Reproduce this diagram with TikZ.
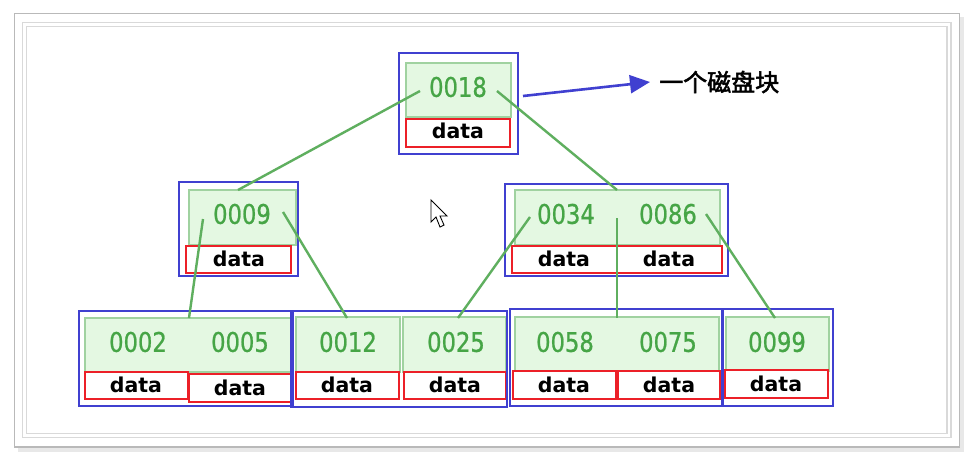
\documentclass[tikz,border=0pt]{standalone}
\usepackage{fontspec}
\setmainfont{DejaVu Sans}
\newfontfamily\numfont[FakeStretch=0.84,FakeBold=0.8]{DejaVu Sans}
\newfontfamily\cjkfont[FakeBold=2.2]{Noto Sans CJK SC}
\usetikzlibrary{fit,arrows.meta}
\definecolor{kfill}{RGB}{228,248,226}
\definecolor{kborder}{RGB}{160,210,160}
\definecolor{ktext}{RGB}{70,165,70}
\definecolor{kline}{RGB}{95,175,95}
\definecolor{dred}{RGB}{236,32,40}
\definecolor{bblue}{RGB}{64,64,208}
\tikzset{
  keybox/.style={fill=kfill, draw=kborder, line width=1.6pt, inner sep=0pt},
  databox/.style={fill=white, draw=dred, line width=2.4pt, inner sep=0pt},
  blockbox/.style={draw=bblue, line width=2.6pt, inner sep=0pt},
  num/.style={text=ktext, inner sep=0pt, font=\numfont\fontsize{27}{27}\selectfont},
  dat/.style={text=black, inner sep=0pt, font=\bfseries\fontsize{20.5}{20.5}\selectfont},
  link/.style={draw=kline, line width=2.4pt},
}
\begin{document}
\begin{tikzpicture}[x=1pt,y=-1pt]
\useasboundingbox (0,0) rectangle (967,460);
% frames
\fill[gray!18] (18,446) rectangle (964,452);
\fill[gray!18] (959,17) rectangle (964,452);
\draw[fill=white, draw=gray!55, line width=1.3pt] (14.5,13.5) rectangle (959.5,447);
\draw[gray!30, line width=1.3pt] (22.5,22.5) rectangle (951,437.5);
\draw[gray!30, line width=1.3pt] (26.5,26.5) rectangle (947,433.5);

% ---------- root ----------
\node[keybox, fit={(406,63)(511,117)}] (g18) {};
\node[databox, fit={(406,119)(510,147)}] (d18) {};
\node[blockbox, fit={(399,53)(518,154)}] (b18) {};
\node[num] (t18) at (458,87) {0018};
\node[dat] (x18) at (458,131) {data};

% ---------- level 2 left ----------
\node[keybox, fit={(189,190)(296,245)}] (g09) {};
\node[databox, fit={(186,246)(291,273)}] (d09) {};
\node[blockbox, fit={(179,182)(298,276)}] (b09) {};
\node[num] (t09) at (242,214) {0009};
\node[dat] (x09) at (239,259) {data};

% ---------- level 2 right ----------
\node[keybox, fit={(515,190)(720,245)}] (g3486) {};
\node[databox, fit={(512,246)(617,273)}] (d34) {};
\node[databox, fit={(617,246)(722,273)}] (d86) {};
\node[blockbox, fit={(505,184)(728,276)}] (b3486) {};
\node[num] (t34) at (566,214) {0034};
\node[num] (t86) at (668,214) {0086};
\node[dat] (x34) at (564,259) {data};
\node[dat] (x86) at (669,259) {data};

% ---------- level 3 ----------
% group 1
\node[keybox, fit={(85,318)(292,372)}] (g0205) {};
\node[databox, fit={(85,372)(188,399)}] (d02) {};
\node[databox, fit={(189,374)(292,402)}] (d05) {};
\node[blockbox, fit={(79,311)(293,406)}] (b0205) {};
\node[num] (t02) at (138,342) {0002};
\node[num] (t05) at (240,342) {0005};
\node[dat] (x02) at (136,385) {data};
\node[dat] (x05) at (240,388) {data};
% group 2
\node[keybox, fit={(296,317)(400,372)}] (g12) {};
\node[keybox, fit={(403,317)(506,372)}] (g25) {};
\node[databox, fit={(296,372)(399,399)}] (d12) {};
\node[databox, fit={(404,372)(506,399)}] (d25) {};
\node[blockbox, fit={(291,311)(507,407)}] (b1225) {};
\node[num] (t12) at (348,342) {0012};
\node[num] (t25) at (456,342) {0025};
\node[dat] (x12) at (347,385) {data};
\node[dat] (x25) at (455,385) {data};
% group 3
\node[keybox, fit={(515,317)(719,372)}] (g5875) {};
\node[databox, fit={(513,371)(616,399)}] (d58) {};
\node[databox, fit={(618,371)(720,399)}] (d75) {};
\node[blockbox, fit={(510,309)(723,406)}] (b5875) {};
\node[num] (t58) at (565,342) {0058};
\node[num] (t75) at (668,342) {0075};
\node[dat] (x58) at (564,385) {data};
\node[dat] (x75) at (669,385) {data};
% group 4
\node[keybox, fit={(726,317)(829,371)}] (g99) {};
\node[databox, fit={(725,370)(828,398)}] (d99) {};
\node[blockbox, fit={(722,309)(833,406)}] (b99) {};
\node[num] (t99) at (777,342) {0099};
\node[dat] (x99) at (776,384) {data};

% ---------- connector end points ----------
\coordinate (r1) at (420,91);
\coordinate (r2) at (497,91);
\coordinate (l1) at (238,190);
\coordinate (l2) at (617,190);
\coordinate (a1) at (203,219);
\coordinate (a2) at (283,212);
\coordinate (c1) at (530,217);
\coordinate (c2) at (617,218);
\coordinate (c3) at (706,214);
\coordinate (e1) at (189,318);
\coordinate (e2) at (347,318);
\coordinate (e3) at (458,318);
\coordinate (e4) at (617,318);
\coordinate (e5) at (775,318);

\draw[link] (r1) -- (l1);
\draw[link] (r2) -- (l2);
\draw[link] (a1) -- (e1);
\draw[link] (a2) -- (e2);
\draw[link] (c1) -- (e3);
\draw[link] (c2) -- (e4);
\draw[link] (c3) -- (e5);

% ---------- label arrow ----------
\node[anchor=west, inner sep=0pt, font=\cjkfont\fontsize{24}{24}\selectfont] (lbl) at (659,82) {一个磁盘块};
\coordinate (as) at (523,96);
\draw[bblue, line width=2.6pt, -{Triangle[length=20pt,width=18pt]}] (as) -- ([xshift=-9pt]lbl.west);

% ---------- mouse cursor ----------
\draw[fill=white, draw=black, line width=0.9pt, line join=miter]
  (431,200) -- (431,222) -- (436,217) -- (440,227) -- (444,225) -- (440,216) -- (447,216) -- cycle;
\end{tikzpicture}
\end{document}
